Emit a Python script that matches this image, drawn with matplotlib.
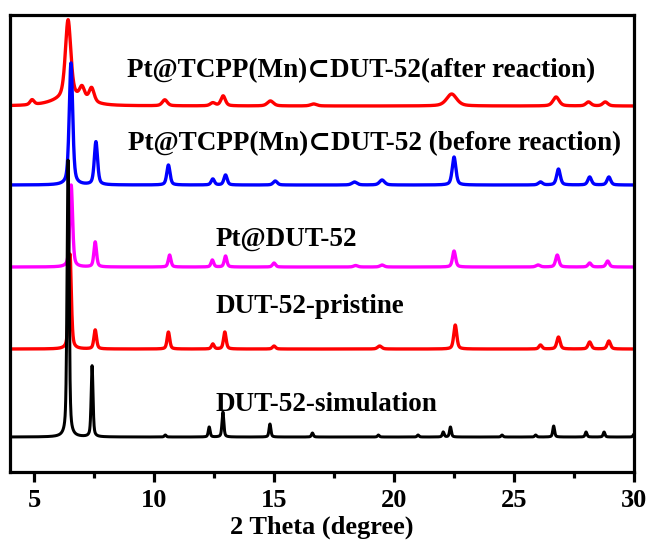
import matplotlib
matplotlib.use('Agg')
import matplotlib.pyplot as plt
import numpy as np
from matplotlib.ticker import MultipleLocator

plt.rcParams['font.family'] = ['Liberation Serif', 'DejaVu Serif']
plt.rcParams['font.weight'] = 'bold'

# XRD patterns: peak positions (2 theta), heights and widths
# simulation
sim_pos = [6.42, 7.42, 10.47, 12.3, 12.87, 14.83, 16.6, 19.35, 21.0, 22.05, 22.35, 24.5, 25.9, 26.65, 28.0, 28.75, 30.0]
sim_h = [277, 71, 2, 10, 25, 13, 4, 2, 2, 5, 10, 2, 2, 11, 5, 5, 3]
sim_w = [0.1, 0.09, 0.09, 0.09, 0.09, 0.09, 0.09, 0.09, 0.09, 0.09, 0.09, 0.09, 0.09, 0.09, 0.09, 0.09, 0.09]
sim_base = 35

# pristine
pri_pos = [6.5, 7.55, 10.6, 12.45, 12.95, 15.0, 19.4, 22.55, 26.1, 26.85, 28.15, 28.95]
pri_h = [95, 19, 17, 5, 17, 3, 3, 24, 4, 12, 7, 8]
pri_w = [0.13, 0.13, 0.13, 0.13, 0.13, 0.15, 0.2, 0.15, 0.15, 0.16, 0.16, 0.16]
pri_base = 123

# Pt@DUT-52
pt_pos = [6.55, 7.55, 10.65, 12.43, 12.98, 15.0, 18.4, 19.5, 22.5, 26.0, 26.8, 28.15, 28.9]
pt_h = [82, 25, 12, 7, 11, 4, 1.5, 2, 16, 2, 12, 4, 6]
pt_w = [0.14, 0.13, 0.13, 0.13, 0.13, 0.15, 0.2, 0.2, 0.15, 0.2, 0.16, 0.16, 0.16]
pt_base = 205

# before reaction
bef_pos = [6.54, 7.58, 10.6, 12.45, 12.98, 15.05, 18.35, 19.5, 22.5, 26.1, 26.85, 28.15, 28.95]
bef_h = [122, 43, 20, 6, 10, 4, 3, 5, 28, 3, 16, 8, 8]
bef_w = [0.17, 0.16, 0.16, 0.16, 0.16, 0.2, 0.25, 0.25, 0.18, 0.2, 0.18, 0.18, 0.18]
bef_base = 287

# after reaction
aft_pos = [4.92, 6.42, 6.5, 7.0, 7.4, 10.45, 12.45, 12.88, 14.85, 16.65, 22.4, 26.75, 28.1, 28.8]
aft_h = [5, 78, 8, 12, 14, 6, 3, 10, 5, 2, 12, 9, 4, 4]
aft_w = [0.2, 0.27, 1.6, 0.25, 0.25, 0.25, 0.25, 0.22, 0.3, 0.3, 0.5, 0.3, 0.25, 0.25]
aft_base = 366

labels = ['Pt@TCPP(Mn)\u2282DUT-52(after reaction)',
          'Pt@TCPP(Mn)\u2282DUT-52 (before reaction)',
          'Pt@DUT-52',
          'DUT-52-pristine',
          'DUT-52-simulation']


def pattern(x, pos, h, w, base):
    y = np.full_like(x, base, dtype=float)
    for p, a, g in zip(pos, h, w):
        lor = 1 / (1 + ((x - p) / (g / 2)) ** 2)
        gau = np.exp(-4 * np.log(2) * ((x - p) / g) ** 2)
        y += a * (0.5 * lor + 0.5 * gau)
    return y


x = np.linspace(4, 30, 4000)

fig = plt.figure(figsize=(6.49, 5.46), dpi=100)
ax = fig.add_axes([0.0154, 0.1355, 0.9616, 0.837])

lw = 2.4
ax.plot(x, pattern(x, aft_pos, aft_h, aft_w, aft_base), color='#ff0000', lw=lw)
ax.plot(x, pattern(x, bef_pos, bef_h, bef_w, bef_base), color='#0000ff', lw=lw)
ax.plot(x, pattern(x, pri_pos, pri_h, pri_w, pri_base), color='#ff0000', lw=lw)
ax.plot(x, pattern(x, pt_pos, pt_h, pt_w, pt_base), color='#ff00ff', lw=lw)
ax.plot(x, pattern(x, sim_pos, sim_h, sim_w, sim_base), color='black', lw=lw * 0.9)

# labels
label_xy = [(8.88, 401), (8.9, 328), (12.55, 233), (12.55, 166), (12.55, 68)]
for txt, (tx, ty) in zip(labels, label_xy):
    ax.text(tx, ty, txt, fontsize=19.5, fontweight='bold', va='center', ha='left')

ax.set_xlim(4, 30)
ax.set_ylim(0, 457)
ax.set_yticks([])
ax.xaxis.set_major_locator(MultipleLocator(5))
ax.xaxis.set_minor_locator(MultipleLocator(2.5))
for s in ax.spines.values():
    s.set_linewidth(2.3)
ax.tick_params(axis='x', which='major', direction='out', length=7, width=2.3,
               labelsize=19, pad=5)
ax.tick_params(axis='x', which='minor', direction='out', length=4, width=2.3)
for lab in ax.get_xticklabels():
    lab.set_fontweight('bold')
ax.set_xlabel('2 Theta (degree)', fontsize=19, fontweight='bold', labelpad=3)

fig.savefig('out.png', dpi=100)
